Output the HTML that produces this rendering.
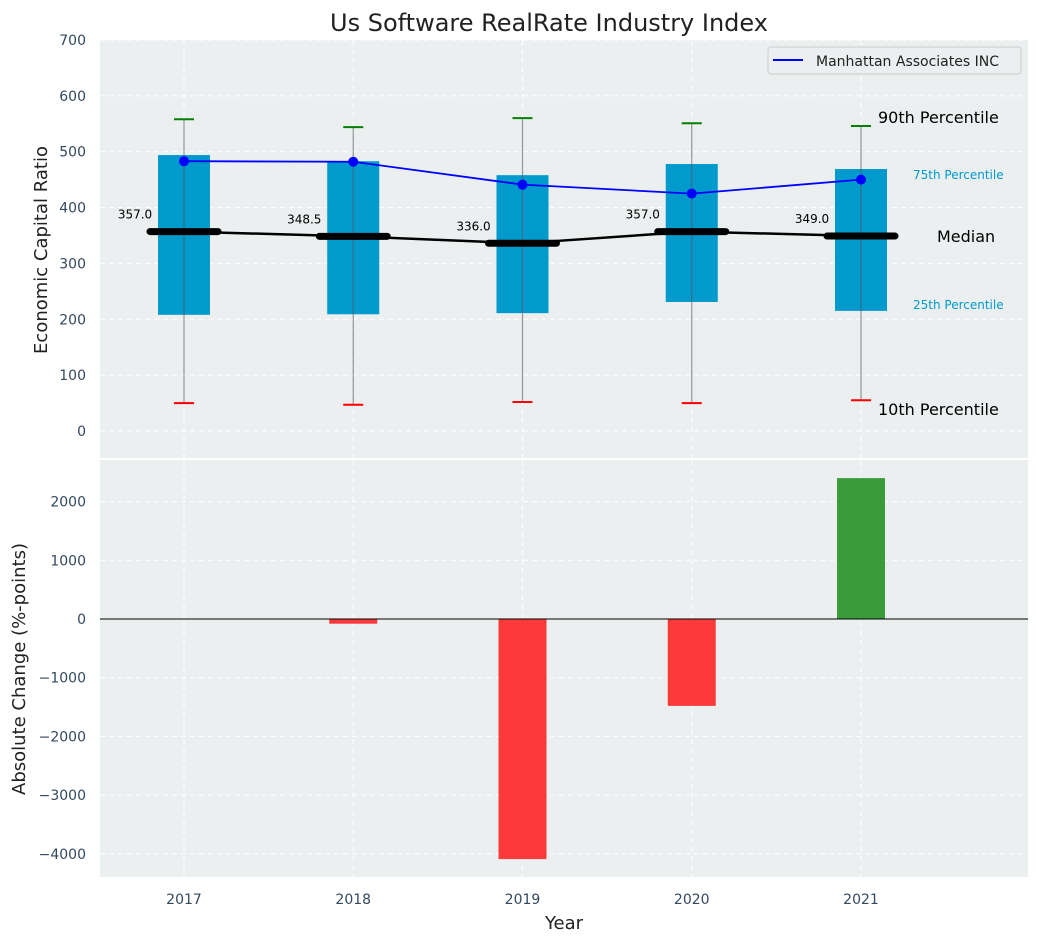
<!DOCTYPE html>
<html><head><meta charset="utf-8"><style>
body{margin:0;background:#fff;}
svg{display:block;font-family:"DejaVu Sans","Liberation Sans",sans-serif;}
</style></head><body>
<svg id="c" width="1039" height="942"></svg>
<script>
const years=[2017,2018,2019,2020,2021];
const p10=[50,47,52,50,55];
const p25=[208,209,211,231,215];
const med=[357.0,348.5,336.0,357.0,349.0];
const p75=[494,483,458,478,469];
const p90=[558,544,560,551,546];
const company=[483,482,441,425,450];
const changes=[0,-80,-4090,-1480,2400];
const topTicks=[0,100,200,300,400,500,600,700];
const botTicks=[-4000,-3000,-2000,-1000,0,1000,2000];

const NS='http://www.w3.org/2000/svg';
const svg=document.getElementById('c');
function el(t,a,p){const e=document.createElementNS(NS,t);for(const k in a)e.setAttribute(k,a[k]);(p||svg).appendChild(e);return e;}
const L=100,R=1028;
const x=v=>184+(v-2017)*169.25;
const T0=40,T1=458;const yt=v=>431-v*0.5586;
const B0=460,B1=877;const yb=v=>619-v*0.0587;

let g;
g=el('rect',{x:L,y:T0,width:R-L,height:T1-T0,fill:'#ebeff0'});

g=el('rect',{x:L,y:B0,width:R-L,height:B1-B0,fill:'#ebeff0'});


topTicks.forEach(t=>{const yy=yt(t);
 el('line',{x1:L,x2:R,y1:yy,y2:yy,stroke:'#fff','stroke-dasharray':'5,4','stroke-width':1});
 const tx=el('text',{x:86,y:yy+5,'text-anchor':'end','font-size':14,fill:'#34495e'});tx.textContent=t;
 });
botTicks.forEach(t=>{const yy=yb(t);
 el('line',{x1:L,x2:R,y1:yy,y2:yy,stroke:'#fff','stroke-dasharray':'5,4','stroke-width':1});
 const tx=el('text',{x:86,y:yy+5,'text-anchor':'end','font-size':14,fill:'#34495e'});tx.textContent=(t<0?'\u2212'+(-t):t);
 });
years.forEach(yv=>{const xx=x(yv);
 el('line',{x1:xx,x2:xx,y1:T0,y2:T1,stroke:'#fff','stroke-dasharray':'5,4'});
 el('line',{x1:xx,x2:xx,y1:B0,y2:B1,stroke:'#fff','stroke-dasharray':'5,4'});
 const tx=el('text',{x:xx,y:904,'text-anchor':'middle','font-size':14,fill:'#34495e'});tx.textContent=yv;
 });

years.forEach((yv,i)=>{const xx=x(yv);
 const b=el('rect',{x:xx-26,y:yt(p75[i]),width:52,height:yt(p25[i])-yt(p75[i]),fill:'#009ACD'});
 
 el('line',{x1:xx,x2:xx,y1:yt(p90[i]),y2:yt(p10[i]),stroke:'#555','stroke-opacity':0.6,'stroke-width':1.2});
 el('line',{x1:xx-10,x2:xx+10,y1:yt(p90[i]),y2:yt(p90[i]),stroke:'green','stroke-width':2});
 el('line',{x1:xx-10,x2:xx+10,y1:yt(p10[i]),y2:yt(p10[i]),stroke:'red','stroke-width':2});
});
el('polyline',{points:years.map((yv,i)=>x(yv)+','+yt(med[i])).join(' '),fill:'none',stroke:'#000','stroke-width':2.5});
years.forEach((yv,i)=>{const xx=x(yv);
 const m=el('line',{x1:xx-34,x2:xx+34,y1:yt(med[i]),y2:yt(med[i]),stroke:'#000','stroke-width':7,'stroke-linecap':'round'});
 
 const t=el('text',{x:xx-49,y:yt(med[i])-13,'text-anchor':'middle','font-size':12,fill:'#000'});t.textContent=med[i].toFixed(1);
 });
el('polyline',{points:years.map((yv,i)=>x(yv)+','+yt(company[i])).join(' '),fill:'none',stroke:'blue','stroke-width':1.8});
years.forEach((yv,i)=>{const c=el('circle',{cx:x(yv),cy:yt(company[i]),r:5,fill:'blue'});
 });

[['90th Percentile',878,123,16,'#000'],['75th Percentile',913,179,12,'#009ACD'],['Median',937,242,16,'#000'],['25th Percentile',913,309,12,'#009ACD'],['10th Percentile',878,415,16,'#000']].forEach(a=>{
 const t=el('text',{x:a[1],y:a[2],'font-size':a[3],fill:a[4]});t.textContent=a[0];
 });

g=el('g',{});
el('rect',{x:768,y:47,width:253,height:27,rx:3,fill:'#ebeff0',stroke:'#ccc'},g);
el('line',{x1:773,x2:803,y1:60,y2:60,stroke:'blue','stroke-width':2},g);
const lt=el('text',{x:816,y:66,'font-size':14,fill:'#222'},g);lt.textContent='Manhattan Associates INC';

years.forEach((yv,i)=>{const xx=x(yv),v=changes[i];
 const r=el('rect',{x:xx-24,y:Math.min(yb(v),yb(0)),width:48,height:Math.abs(yb(v)-yb(0)),fill:v>=0?'#3a9b3a':'#fd3a3a'});
 });
el('line',{x1:L,x2:R,y1:yb(0),y2:yb(0),stroke:'#000','stroke-width':1});

let t=el('text',{x:549,y:31,'text-anchor':'middle','font-size':24,fill:'#222'});t.textContent='Us Software RealRate Industry Index';

t=el('text',{x:47,y:250,'text-anchor':'middle','font-size':18,fill:'#222',transform:'rotate(-90 47 250)'});t.textContent='Economic Capital Ratio';

t=el('text',{x:25,y:669,'text-anchor':'middle','font-size':18,fill:'#222',transform:'rotate(-90 25 669)'});t.textContent='Absolute Change (%-points)';

t=el('text',{x:564,y:929,'text-anchor':'middle','font-size':18,fill:'#222'});t.textContent='Year';

</script>
</body></html>
